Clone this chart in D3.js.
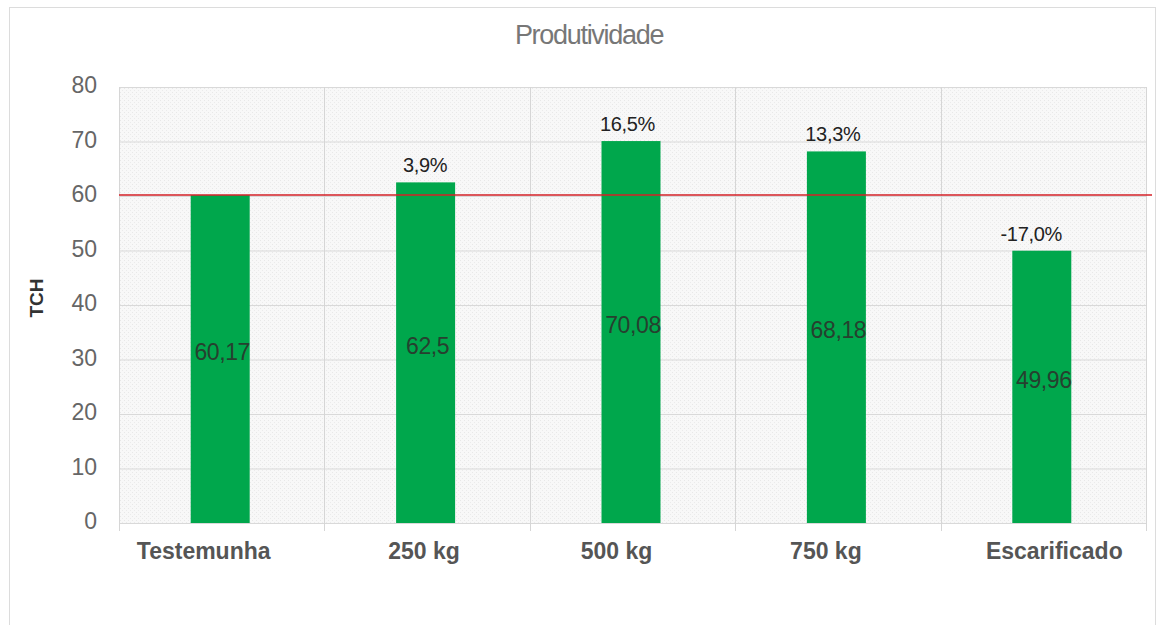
<!DOCTYPE html>
<html lang="pt">
<head>
<meta charset="UTF-8">
<title>Produtividade</title>
<script src="https://d3js.org/d3.v7.min.js"></script>
<style>
    body { margin: 0; background: #fff; }
    svg { display: block; font-family: "Liberation Sans", Arial, sans-serif; }
</style>
</head>
<body>
<svg width="1161" height="625"></svg>
<script>
    // dados
    const categories = ["Testemunha", "250 kg", "500 kg", "750 kg", "Escarificado"];
    const values = [60.17, 62.5, 70.08, 68.18, 49.96];
    const valueLabels = ["60,17", "62,5", "70,08", "68,18", "49,96"];
    const pctLabels = ["", "3,9%", "16,5%", "13,3%", "-17,0%"];
    const yTicks = [0, 10, 20, 30, 40, 50, 60, 70, 80];
    const refValue = 60.17;

    const svg = d3.select("svg");
    const plotLeft = 119, plotRight = 1146, plotTop = 87, plotBottom = 523;
    // pequenos deslocamentos dos rótulos do eixo x, como no original
    const labelShift = [-18, -3, -16, -12, 11];
    const pctShift = [0, -2, -5, -5, -12];

    // moldura externa
    svg.append("rect")
        .attr("x", 9.5).attr("y", 7.5)
        .attr("width", 1146).attr("height", 640)
        .attr("fill", "#fff").attr("stroke", "#dcdcdc");

    const defs = svg.append("defs");
    const pat = defs.append("pattern")
        .attr("id", "bgPat").attr("width", 4).attr("height", 4)
        .attr("patternUnits", "userSpaceOnUse");
    pat.append("rect").attr("width", 4).attr("height", 4).attr("fill", "#f8f8f8");
    pat.append("rect").attr("x", 0).attr("y", 0).attr("width", 1).attr("height", 1).attr("fill", "#e8e8e8");
    pat.append("rect").attr("x", 2).attr("y", 2).attr("width", 1).attr("height", 1).attr("fill", "#ebebeb");

    const x = d3.scaleBand().domain(categories).range([plotLeft, plotRight]);
    const y = d3.scaleLinear().domain([0, 80]).range([plotBottom, plotTop]);

    svg.append("rect")
        .attr("x", plotLeft).attr("y", plotTop)
        .attr("width", plotRight - plotLeft).attr("height", plotBottom - plotTop)
        .attr("fill", "url(#bgPat)");

    // grade horizontal
    svg.append("g").selectAll("line").data(yTicks).join("line")
        .attr("x1", plotLeft).attr("x2", plotRight)
        .attr("y1", d => y(d) + 0.5).attr("y2", d => y(d) + 0.5)
        .attr("stroke", "#d9d9d9");

    // grade vertical
    const bounds = categories.map(c => x(c)).concat([plotRight]);
    svg.append("g").selectAll("line").data(bounds).join("line")
        .attr("x1", d => Math.round(d) + 0.5).attr("x2", d => Math.round(d) + 0.5)
        .attr("y1", plotTop).attr("y2", plotBottom + 8)
        .attr("stroke", "#d6d6d6");

    // eixo y
    svg.append("g").selectAll("text").data(yTicks).join("text")
        .attr("x", 97).attr("y", d => y(d) + 6)
        .attr("text-anchor", "end")
        .attr("font-size", 23).attr("fill", "#666")
        .text(d => d);

    svg.append("text")
        .attr("transform", "translate(43,298) rotate(-90)")
        .attr("text-anchor", "middle")
        .attr("font-size", 19).attr("font-weight", "bold").attr("fill", "#333")
        .text("TCH");

    // barras
    const barW = 59;
    const cx = c => x(c) + x.bandwidth() / 2;
    svg.append("g").selectAll("rect").data(values).join("rect")
        .attr("x", (d, i) => cx(categories[i]) - barW / 2 - 1.5)
        .attr("y", d => y(d))
        .attr("width", barW)
        .attr("height", d => plotBottom - y(d))
        .attr("fill", "#00a74c");

    // linha de referência
    svg.append("line")
        .attr("x1", plotLeft).attr("x2", 1152)
        .attr("y1", y(refValue)).attr("y2", y(refValue))
        .attr("stroke", "#d42027").attr("stroke-width", 1.5);

    // rótulos de valor
    svg.append("g").selectAll("text").data(values).join("text")
        .attr("x", (d, i) => cx(categories[i]) + 0.5)
        .attr("y", d => (y(d) + plotBottom) / 2 + 1)
        .attr("text-anchor", "middle")
        .attr("font-size", 23).attr("fill", "#26402f")
        .attr("letter-spacing", -0.4)
        .text((d, i) => valueLabels[i]);

    // rótulos percentuais
    svg.append("g").selectAll("text").data(values).join("text")
        .attr("x", (d, i) => cx(categories[i]) + pctShift[i])
        .attr("y", d => y(d) - 10)
        .attr("text-anchor", "middle")
        .attr("font-size", 20).attr("fill", "#222")
        .attr("letter-spacing", -0.3)
        .text((d, i) => pctLabels[i]);

    // rótulos do eixo x
    svg.append("g").selectAll("text").data(categories).join("text")
        .attr("x", (d, i) => cx(d) + labelShift[i])
        .attr("y", 559)
        .attr("text-anchor", "middle")
        .attr("font-size", 23).attr("font-weight", "bold").attr("fill", "#555")
        .text(d => d);

    // título
    svg.append("text")
        .attr("x", 589).attr("y", 44)
        .attr("text-anchor", "middle")
        .attr("font-size", 27).attr("fill", "#777")
        .attr("letter-spacing", -1.3)
        .text("Produtividade");
</script>
</body>
</html>
